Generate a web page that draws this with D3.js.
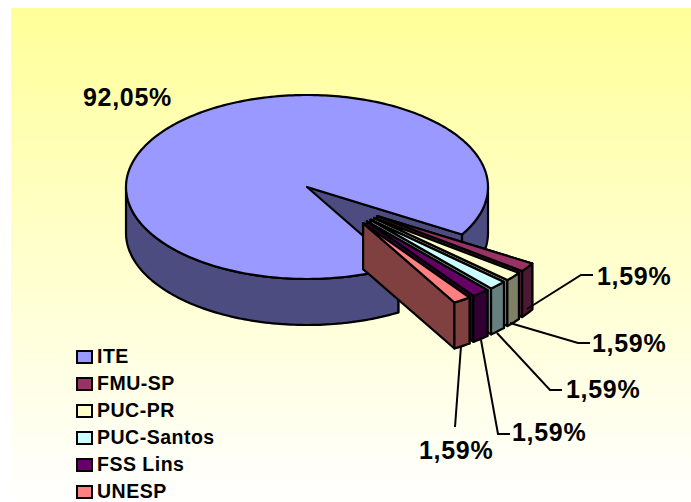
<!DOCTYPE html>
<html><head><meta charset="utf-8"><script src="https://cdn.jsdelivr.net/npm/d3@7"></script>
<style>html,body{margin:0;padding:0;background:#fff}svg{display:block}text{font-family:"Liberation Sans",Arial,sans-serif;font-weight:bold;fill:#000}</style></head>
<body><div id="c"></div>
<script>
const categories=["ITE","FMU-SP","PUC-PR","PUC-Santos","FSS Lins","UNESP"];
const values=[92.05,1.59,1.59,1.59,1.59,1.59];
const labels=["92,05%","1,59%","1,59%","1,59%","1,59%","1,59%"];
const topColors=["#9999FF","#993366","#FFFFCC","#CCFFFF","#660066","#FF8080"];
const wallColors=["#4C4C80","#4C1933","#808066","#668080","#330033","#804040"];
const explode=[0,.5,.5,.5,.5,.5];
const W=691,H=502;
const svg=d3.select("#c").append("svg").attr("width",W).attr("height",H);
const defs=svg.append("defs");
const g=defs.append("linearGradient").attr("id","bg").attr("x1",0).attr("y1",0).attr("x2",0).attr("y2",1);
g.append("stop").attr("offset",0).attr("stop-color","#FFFF99");
g.append("stop").attr("offset",1).attr("stop-color","#FFFFFF");
svg.append("rect").attr("x",11).attr("y",8).attr("width",W-11).attr("height",H-8).attr("fill","url(#bg)");
const cx=307,cy=187,rx=181,ry=92,depth=46;
const X=d3.scaleLinear().domain([-1,1]).range([cx-rx,cx+rx]);
const Y=d3.scaleLinear().domain([-1,1]).range([cy-ry,cy+ry]);
const rad=d3.scaleLinear().domain([0,360]).range([0,2*Math.PI]);
const pie=d3.pie().sort(null).startAngle(rad(59.7)).endAngle(rad(59.7+360));
const arcs=pie(values);
// exploded slices fan out from the middle of their group, less than their own angle
const groupMid=(arcs[1].startAngle+arcs[5].endAngle)/2, fan=0.55;
function pt(a,r,off){return [X(off[0]+r*Math.cos(a)),Y(off[1]+r*Math.sin(a))+(off[2]||0)];}
function arcPts(a0,a1,off){const n=Math.max(2,Math.ceil(Math.abs(a1-a0)/0.02));return d3.range(n+1).map(i=>pt(a0+(a1-a0)*i/n,1,off));}
const line=d3.line();
const layer=svg.append("g").attr("stroke","#000").attr("stroke-width",2.2).attr("stroke-linejoin","round");
function draw(i){
 const d=arcs[i],m0=(d.startAngle+d.endAngle)/2,e=explode[i];
 const m=i?groupMid+(m0-groupMid)*fan:m0;
 const off=[e*Math.cos(m),e*Math.sin(m)];
 const a0=d.startAngle,a1=d.endAngle;
 const low=[off[0],off[1],depth];
 const wall=wallColors[i];
 [a0,a1].forEach(a=>{
  const c=pt(0,0,off),p=pt(a,1,off),c2=pt(0,0,low),p2=pt(a,1,low);
  layer.append("path").attr("d",line([c,p,p2,c2])+"Z").attr("fill",wall);
 });
 const full=2*Math.PI;
 for(let k=0;k<2;k++){
  const s=Math.max(a0,k*full),t=Math.min(a1,k*full+Math.PI);
  if(t>s){
   const up=arcPts(s,t,off),dn=arcPts(t,s,low);
   layer.append("path").attr("d",line(up.concat(dn))+"Z").attr("fill",wall);
  }
 }
 layer.append("path").attr("d",line([pt(0,0,off)].concat(arcPts(a0,a1,off)))+"Z").attr("fill",topColors[i]);
}
[0,1,2,3,4,5].forEach(draw);
const leaders=[
 [[527,309],[581,275],[593,275]],
 [[510,323],[578,343],[590,343]],
 [[497,333],[550,390],[562,390]],
 [[481,340],[498,434],[510,434]],
 [[461,346],[455,427]]
];
const ll=svg.append("g").attr("fill","none").attr("stroke","#000").attr("stroke-width",2);
leaders.forEach(p=>ll.append("path").attr("d",line(p)));
const labelPos=[[83,106],[597,285],[592,352],[566,398],[512,441],[419,459]];
labels.forEach((t,i)=>svg.append("text").attr("x",labelPos[i][0]).attr("y",labelPos[i][1]).attr("font-size",25).attr("letter-spacing",.7).text(t));
const ly=d3.scalePoint().domain(categories).range([363,498]);
categories.forEach((c,i)=>{
 svg.append("rect").attr("x",77).attr("y",ly(c)-12).attr("width",15).attr("height",12).attr("fill",topColors[i]).attr("stroke","#000").attr("stroke-width",2);
 svg.append("text").attr("x",97).attr("y",ly(c)).attr("font-size",19.5).attr("letter-spacing",.5).text(c);
});
</script></body></html>
